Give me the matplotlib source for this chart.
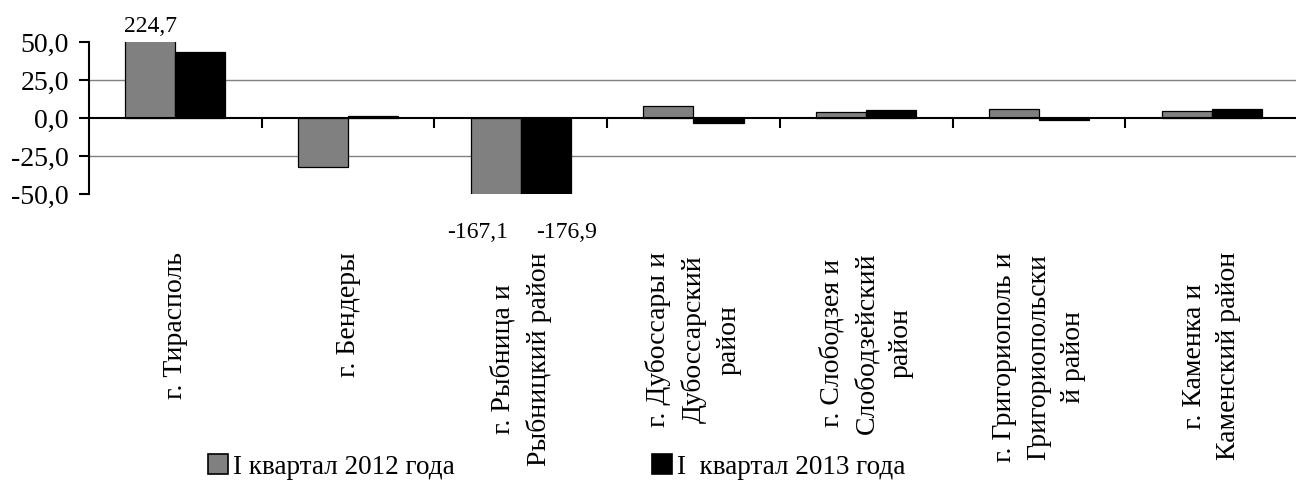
import matplotlib
matplotlib.use("Agg")
import matplotlib.pyplot as plt
import numpy as np
from matplotlib.patches import Patch

plt.rcParams['font.family'] = ['Liberation Serif', 'DejaVu Serif']

categories = ["г. Тирасполь", "г. Бендеры", "г. Рыбница и\nРыбницкий район",
              "г. Дубоссары и\nДубоссарский\nрайон", "г. Слободзея и\nСлободзейский\nрайон",
              "г. Григориополь и\nГригориопольски\nй район", "г. Каменка и\nКаменский район"]
series_names = ["I квартал 2012 года", "I  квартал 2013 года"]
values_2012 = [224.7, -32.5, -167.1, 7.6, 4.0, 6.2, 4.5]
values_2013 = [43.5, 1.5, -176.9, -3.6, 5.5, -1.0, 6.2]
yticks = [50, 25, 0, -25, -50]
ytick_labels = ["50,0", "25,0", "0,0", "-25,0", "-50,0"]

W, H = 1296, 482
fig = plt.figure(figsize=(W / 100, H / 100), dpi=100)
ax_left, ax_right, ax_top, ax_bottom = 89, 1298, 42, 194
ax = fig.add_axes([ax_left / W, 1 - ax_bottom / H, (ax_right - ax_left) / W, (ax_bottom - ax_top) / H])

x = np.arange(len(categories))
w = 0.29
ax.bar(x - w/2, values_2012, w, color="#808080", edgecolor="black", linewidth=0.9, zorder=3)
ax.bar(x + w/2, values_2013, w, color="black", edgecolor="black", linewidth=0.9, zorder=3)

ax.set_xlim(-0.5, len(categories) - 0.5)
ax.set_ylim(-50, 50)

for yv in [25, -25]:
    ax.axhline(yv, color="#808080", linewidth=1.0, zorder=1)

for s in ["top", "right"]:
    ax.spines[s].set_visible(False)
ax.spines["left"].set_linewidth(1.5)
ax.spines["bottom"].set_position(("data", 0))
ax.spines["bottom"].set_linewidth(1.5)
ax.spines["bottom"].set_zorder(4)

ax.set_yticks(yticks)
ax.set_yticklabels(ytick_labels, fontsize=20)
ax.tick_params(axis="y", direction="out", length=7.5, width=1.5, pad=7)

ax.set_xticks(np.arange(0.5, len(categories) - 0.5, 1.0))
ax.set_xticklabels([])
ax.tick_params(axis="x", direction="out", length=7.5, width=1.5)

trans = ax.get_xaxis_transform()
label_top = -(252 - ax_bottom) / (ax_bottom - ax_top)
for xi, lab in zip(x, categories):
    ax.text(xi, label_top, lab, rotation=90, ha="center", va="top", fontsize=20,
            multialignment="center", transform=trans, clip_on=False, linespacing=1.5)

# value labels for bars cut at the axis limits
ax.text(0 - w/2, (ax_bottom - 32) / (ax_bottom - ax_top), "224,7", ha="center", va="baseline",
        fontsize=17, transform=trans, clip_on=False)
ylab = -(233 - ax_bottom) / (ax_bottom - ax_top)
ax.text(2 - 0.251, ylab, "-167,1", ha="center", va="center", fontsize=17, transform=trans, clip_on=False)
ax.text(2 + 0.263, ylab, "-176,9", ha="center", va="center", fontsize=17, transform=trans, clip_on=False)

handles = [Patch(facecolor="#808080", edgecolor="black", linewidth=1.2),
           Patch(facecolor="black", edgecolor="black", linewidth=1.2)]
fig.legend(handles, series_names, loc="center left", bbox_to_anchor=(208 / W, 1 - 467 / H),
           ncol=2, frameon=False, fontsize=19.5, handlelength=0.72, handleheight=0.72,
           handletextpad=0.2, columnspacing=7.3, borderpad=0, borderaxespad=0)

fig.savefig("out.png", dpi=100)
